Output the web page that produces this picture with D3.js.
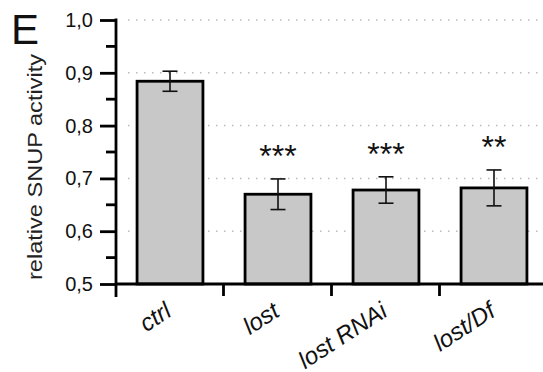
<!DOCTYPE html>
<html>
<head>
<meta charset="utf-8">
<script src="https://cdn.jsdelivr.net/npm/d3@7"></script>
<style>
  body { margin: 0; background: #fff; }
  svg { display: block; font-family: "Liberation Sans", Arial, sans-serif; }
</style>
</head>
<body>
<div id="chart"></div>
<script>
// data
var groups = ['ctrl', 'lost', 'lost RNAi', 'lost/Df'];
var means = [0.884, 0.670, 0.678, 0.682];
var errs = [0.019, 0.029, 0.025, 0.034];
var stars = ['', '***', '***', '**'];
var yTicks = [0.5, 0.6, 0.7, 0.8, 0.9, 1.0];

var width = 543, height = 372;
var margin = { top: 20, right: 0, bottom: 88, left: 116 };

var svg = d3.select('#chart')
  .append('svg')
  .attr('width', width)
  .attr('height', height);

var x = d3.scaleBand()
  .domain(groups)
  .range([margin.left, margin.left + 108 * groups.length])
  .paddingInner(0.39)
  .paddingOuter(0.195);

var y = d3.scaleLinear()
  .domain([0.5, 1.0])
  .range([height - margin.bottom, margin.top]);

var fmt = function(d) { return d3.format('.1f')(d).replace('.', ','); };

// dotted grid
svg.append('g')
  .selectAll('line')
  .data(yTicks.slice(1))
  .enter()
  .append('line')
  .attr('x1', 128)
  .attr('x2', width)
  .attr('y1', function(d) { return y(d); })
  .attr('y2', function(d) { return y(d); })
  .attr('stroke', '#bbb')
  .attr('stroke-width', 1.5)
  .attr('stroke-dasharray', '1.5,6.5');

// bars
svg.append('g')
  .selectAll('rect')
  .data(groups)
  .enter()
  .append('rect')
  .attr('x', function(d) { return x(d); })
  .attr('y', function(d, i) { return y(means[i]); })
  .attr('width', x.bandwidth())
  .attr('height', function(d, i) { return y(0.5) - y(means[i]); })
  .attr('fill', '#c8c8c8')
  .attr('stroke', '#000')
  .attr('stroke-width', 2.8);

// error bars
var eb = svg.append('g').attr('stroke', '#111').attr('stroke-width', 1.6);
groups.forEach(function(g, i) {
  var cx = x(g) + x.bandwidth() / 2;
  var top = y(means[i] + errs[i]), bot = y(means[i] - errs[i]);
  eb.append('line').attr('x1', cx).attr('x2', cx).attr('y1', top).attr('y2', bot);
  eb.append('line').attr('x1', cx - 7.5).attr('x2', cx + 7.5).attr('y1', top).attr('y2', top);
  eb.append('line').attr('x1', cx - 7.5).attr('x2', cx + 7.5).attr('y1', bot).attr('y2', bot);
});

// significance stars
svg.append('g')
  .selectAll('text')
  .data(groups)
  .enter()
  .append('text')
  .attr('x', function(d) { return x(d) + x.bandwidth() / 2; })
  .attr('y', function(d, i) { return y(means[i] + errs[i]) - 12; })
  .attr('text-anchor', 'middle')
  .attr('font-size', 32)
  .attr('fill', '#111')
  .text(function(d, i) { return stars[i]; });

// y axis
var yAxis = svg.append('g')
  .attr('transform', 'translate(' + margin.left + ',0)')
  .call(d3.axisLeft(y).tickValues(yTicks).tickFormat(fmt).tickSize(16).tickSizeOuter(0));
yAxis.select('.domain').remove();
yAxis.selectAll('.tick line').attr('stroke-width', 2.8);
yAxis.selectAll('.tick text').attr('font-size', 20).attr('x', -23).attr('fill', '#111');
yAxis.append('line')
  .attr('x1', 0).attr('x2', 0)
  .attr('y1', y(1.0) - 1.4).attr('y2', y(0.5) + 13)
  .attr('stroke', '#000').attr('stroke-width', 2.8);
// minor ticks
yAxis.selectAll('.minor')
  .data(d3.range(0.55, 1.0, 0.1))
  .enter()
  .append('line')
  .attr('x1', -10).attr('x2', 0)
  .attr('y1', function(d) { return y(d); })
  .attr('y2', function(d) { return y(d); })
  .attr('stroke', '#000').attr('stroke-width', 2.8);

// x axis
var x0 = y(0.5);
var xAxis = svg.append('g');
xAxis.append('line')
  .attr('x1', margin.left).attr('x2', width)
  .attr('y1', x0).attr('y2', x0)
  .attr('stroke', '#000').attr('stroke-width', 2.8);
xAxis.selectAll('.xt')
  .data(groups.slice(1))
  .enter()
  .append('line')
  .attr('x1', function(d) { return x(d) - x.step() * x.paddingInner() / 2 - 0.5; })
  .attr('x2', function(d) { return x(d) - x.step() * x.paddingInner() / 2 - 0.5; })
  .attr('y1', x0).attr('y2', x0 + 12)
  .attr('stroke', '#000').attr('stroke-width', 2.8);

xAxis.selectAll('text')
  .data(groups)
  .enter()
  .append('text')
  .attr('transform', function(d) {
    return 'translate(' + (x(d) + x.bandwidth() / 2 + 3) + ',' + (x0 + 31) + ') rotate(-33)';
  })
  .attr('text-anchor', 'end')
  .attr('font-size', 24)
  .attr('font-style', 'italic')
  .attr('fill', '#111')
  .text(function(d) { return d; });

// y label
svg.append('text')
  .attr('transform', 'translate(42,' + 167 + ') rotate(-90)')
  .attr('text-anchor', 'middle')
  .attr('font-size', 20)
  .attr('fill', '#222')
  .attr('textLength', 226)
  .attr('lengthAdjust', 'spacingAndGlyphs')
  .text('relative SNUP activity');

// panel letter
svg.append('text')
  .attr('x', 11)
  .attr('y', 44)
  .attr('font-size', 42)
  .attr('fill', '#111')
  .text('E');
</script>
</body>
</html>
